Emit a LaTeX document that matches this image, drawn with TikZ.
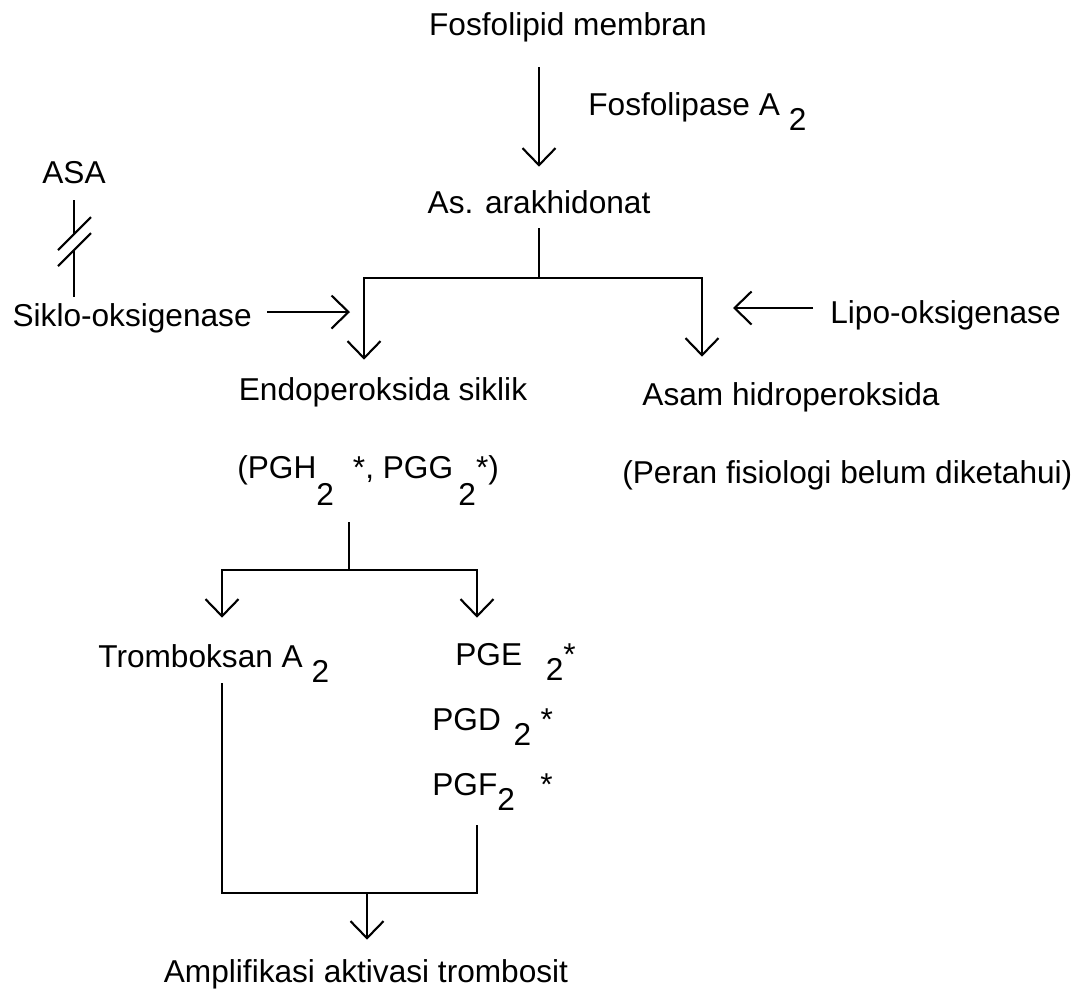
\documentclass[tikz,border=0pt]{standalone}
\usepackage{fontspec}
\setmainfont{Liberation Sans}
\usepackage{tikz}
\usetikzlibrary{arrows.meta}
\newcommand{\indeks}[2][0.3cm]{\raisebox{-#1}{#2}}

\begin{document}
\begin{tikzpicture}[%
x=0.02cm, y=-0.02cm,
every node/.style = {inner sep=0pt, text height=0.46cm, text depth=0.14cm, anchor=base, font={\fontsize{18}{21}\selectfont}},
garis/.style = {line width=1.2pt},
panah/.style = {garis, -{Straight Barb[length=0.34cm, width=0.66cm]}}
]
\useasboundingbox (0,0) rectangle (1087,992);
\node[] (fosfo) at (568,35) {Fosfolipid membran};
\node[anchor=base west] (lipase) at (588,115) {Fosfolipase A \indeks{2}};
\node[] (arak) at (539,213) {As. arakhidonat};
\node[] (asa) at (74,183) {ASA};
\node[anchor=base east] (siklo) at (252,326) {Siklo-oksigenase};
\node[anchor=base west] (lipo) at (830,323) {Lipo-oksigenase};
\node[] (endo) at (383,400) {Endoperoksida siklik};
\node[] (asam) at (791,405) {Asam hidroperoksida};
\node[anchor=base west] (pgh) at (237,478) {(PGH\indeks[0.54cm]{2}\hspace{0.6em}*, PGG\,\indeks[0.54cm]{2}*)};
\node[anchor=base west] (peran) at (622,483) {(Peran fisiologi belum diketahui)};
\node[anchor=base west] (tromb) at (98,667) {Tromboksan A \indeks{2}};
\node[anchor=base west] (pge) at (455,665) {PGE\hspace{0.75em}\indeks{2}*};
\node[anchor=base west] (pgd) at (432,730) {PGD\hspace{0.4em}\indeks{2}\hspace{0.3em}*};
\node[anchor=base west] (pgf) at (432,795) {PGF\indeks{2}\hspace{0.8em}*};
\node[] (ampl) at (366,982) {Amplifikasi aktivasi trombosit};

\coordinate (cabang1) at (539,278);
\coordinate (kiri1) at (364,278);
\coordinate (kanan1) at (702,278);
\coordinate (ujungSiklo) at (350,312);
\coordinate (ujungLipo) at (733,308);
\coordinate (putus) at (74,242);
\coordinate (cabang2) at (349,570);
\coordinate (kiri2) at (222,570);
\coordinate (kanan2) at (477,570);
\coordinate (gabung) at (367,893);

\draw[panah, shorten <=0.5cm, shorten >=0.46cm] (fosfo.south -| arak.north) -- (arak.north);
\draw[garis, shorten <=0.16cm] (arak.south) -- (arak.south |- cabang1);
\draw[panah, shorten >=0.34cm] (arak.south |- cabang1) -| (kiri1 |- endo.north);
\draw[panah, shorten >=0.5cm] (arak.south |- cabang1) -| (kanan1 |- asam.north);
\draw[panah, shorten <=0.3cm] (siklo.east |- ujungSiklo) -- (ujungSiklo);
\draw[panah, shorten <=0.34cm] (lipo.west |- ujungLipo) -- (ujungLipo);

\draw[garis, shorten <=0.2cm] (asa.south) -- ([shift={(0,-8)}]putus);
\draw[garis, shorten >=0.12cm] ([shift={(0,8)}]putus) -- (putus |- siklo.north);
\draw[garis] ([shift={(-16,8)}]putus) -- ++(33,-33);
\draw[garis] ([shift={(-16,24)}]putus) -- ++(33,-33);

\draw[garis, shorten <=0.74cm] (pgh.south -| cabang2) -- (cabang2);
\draw[panah, shorten >=0.52cm] (cabang2) -| (kiri2 |- tromb.north);
\draw[panah, shorten >=0.48cm] (cabang2) -| (kanan2 |- pge.north);

\draw[garis, shorten <=0.18cm] (kiri2 |- tromb.south) |- (gabung);
\draw[garis, shorten <=0.46cm] (kanan2 |- pgf.south) |- (gabung);
\draw[panah, shorten >=0.38cm] (gabung) -- (gabung |- ampl.north);
\end{tikzpicture}
\end{document}
